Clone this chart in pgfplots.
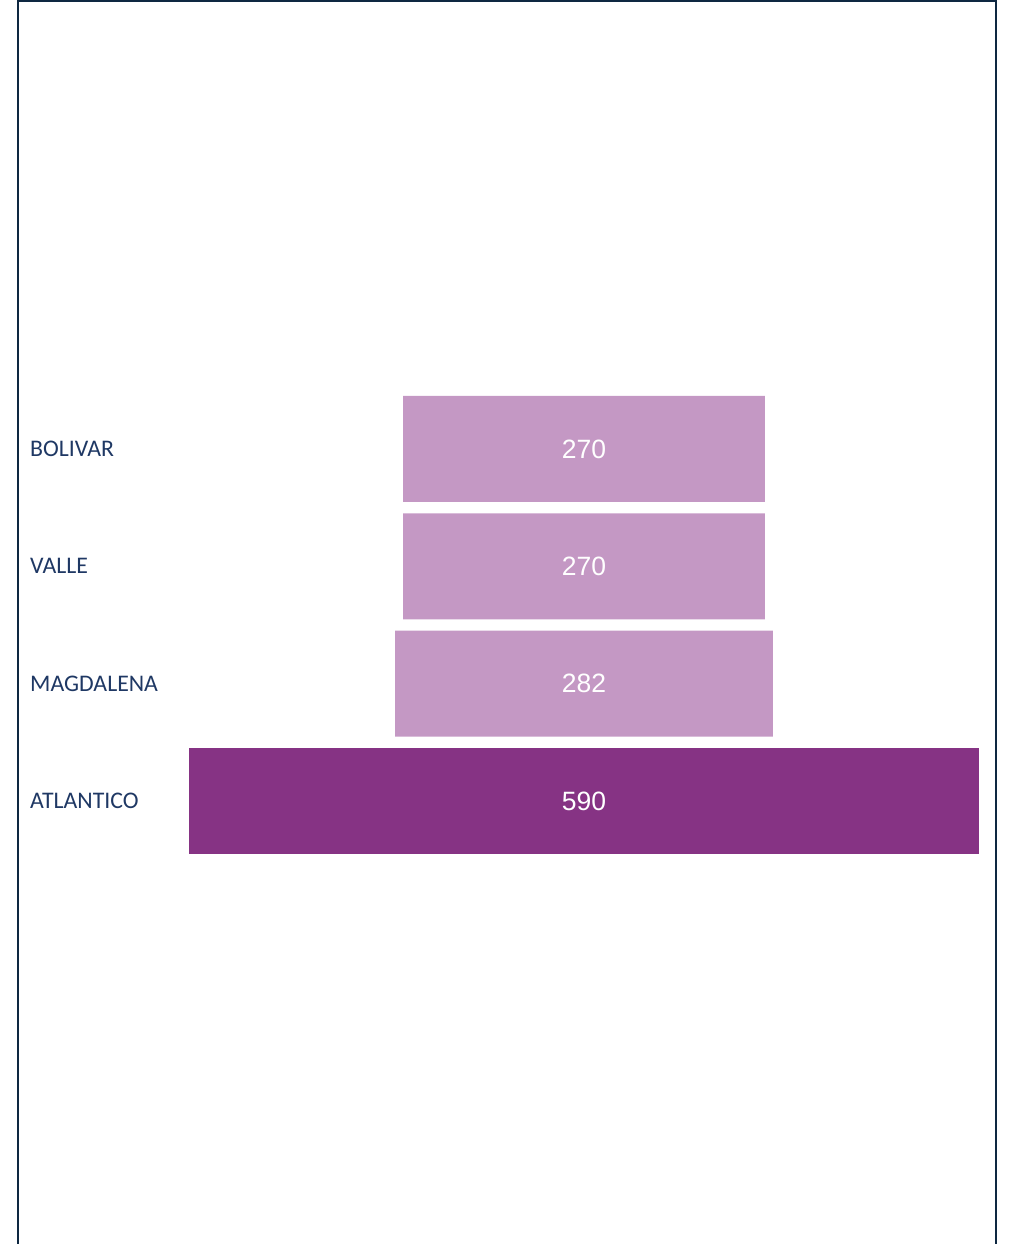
\documentclass[border=0pt]{standalone}
\usepackage{pgfplots}
\pgfplotsset{compat=1.18}
\usepackage{fontspec}
\newfontfamily\labelfont{Carlito}
\newfontfamily\valfont{Liberation Sans}
\definecolor{lightp}{RGB}{196,152,196}
\definecolor{darkp}{RGB}{134,51,132}
\definecolor{navy}{RGB}{14,40,65}
\definecolor{labnavy}{RGB}{31,56,100}
\begin{document}
\begin{tikzpicture}[x=1pt,y=1pt]
\useasboundingbox (0,0) rectangle (1011,1244);
\draw[navy, line width=2.2pt] (18,-10) -- (18,1243) -- (996,1243) -- (996,-10);
\begin{axis}[
  at={(189pt,384.33pt)}, anchor=south west,
  scale only axis, width=790pt, height=469.33pt,
  xmin=0, xmax=590, ymin=-0.5, ymax=3.5,
  enlargelimits=false,
  xbar stacked, bar width=106pt,
  axis line style={draw=none},
  xtick=\empty,
  ytick={0,1,2,3},
  yticklabels={ATLANTICO,MAGDALENA,VALLE,BOLIVAR},
  major tick length=0pt,
  yticklabel style={anchor=west, inner sep=0pt, xshift=-159pt, font=\labelfont\fontsize{23.8}{27}\selectfont, text=labnavy},
]
\addplot[draw=none, fill=none] coordinates {(0,0) (154,1) (160,2) (160,3)};
\addplot[draw=none, fill=lightp] coordinates {(0,0) (282,1) (270,2) (270,3)};
\addplot[draw=none, fill=darkp] coordinates {(590,0) (0,1) (0,2) (0,3)};
\end{axis}
\begin{axis}[
  at={(189pt,384.33pt)}, anchor=south west,
  scale only axis, width=790pt, height=469.33pt,
  xmin=0, xmax=590, ymin=-0.5, ymax=3.5,
  enlargelimits=false, hide axis,
]
\addplot[draw=none, mark=none, nodes near coords, point meta=explicit symbolic,
  every node near coord/.style={anchor=center, inner sep=0pt, text=white, font=\valfont\fontsize{26.5}{30}\selectfont}]
  coordinates {(295,0) [590] (295,1) [282] (295,2) [270] (295,3) [270]};
\end{axis}
\end{tikzpicture}
\end{document}
